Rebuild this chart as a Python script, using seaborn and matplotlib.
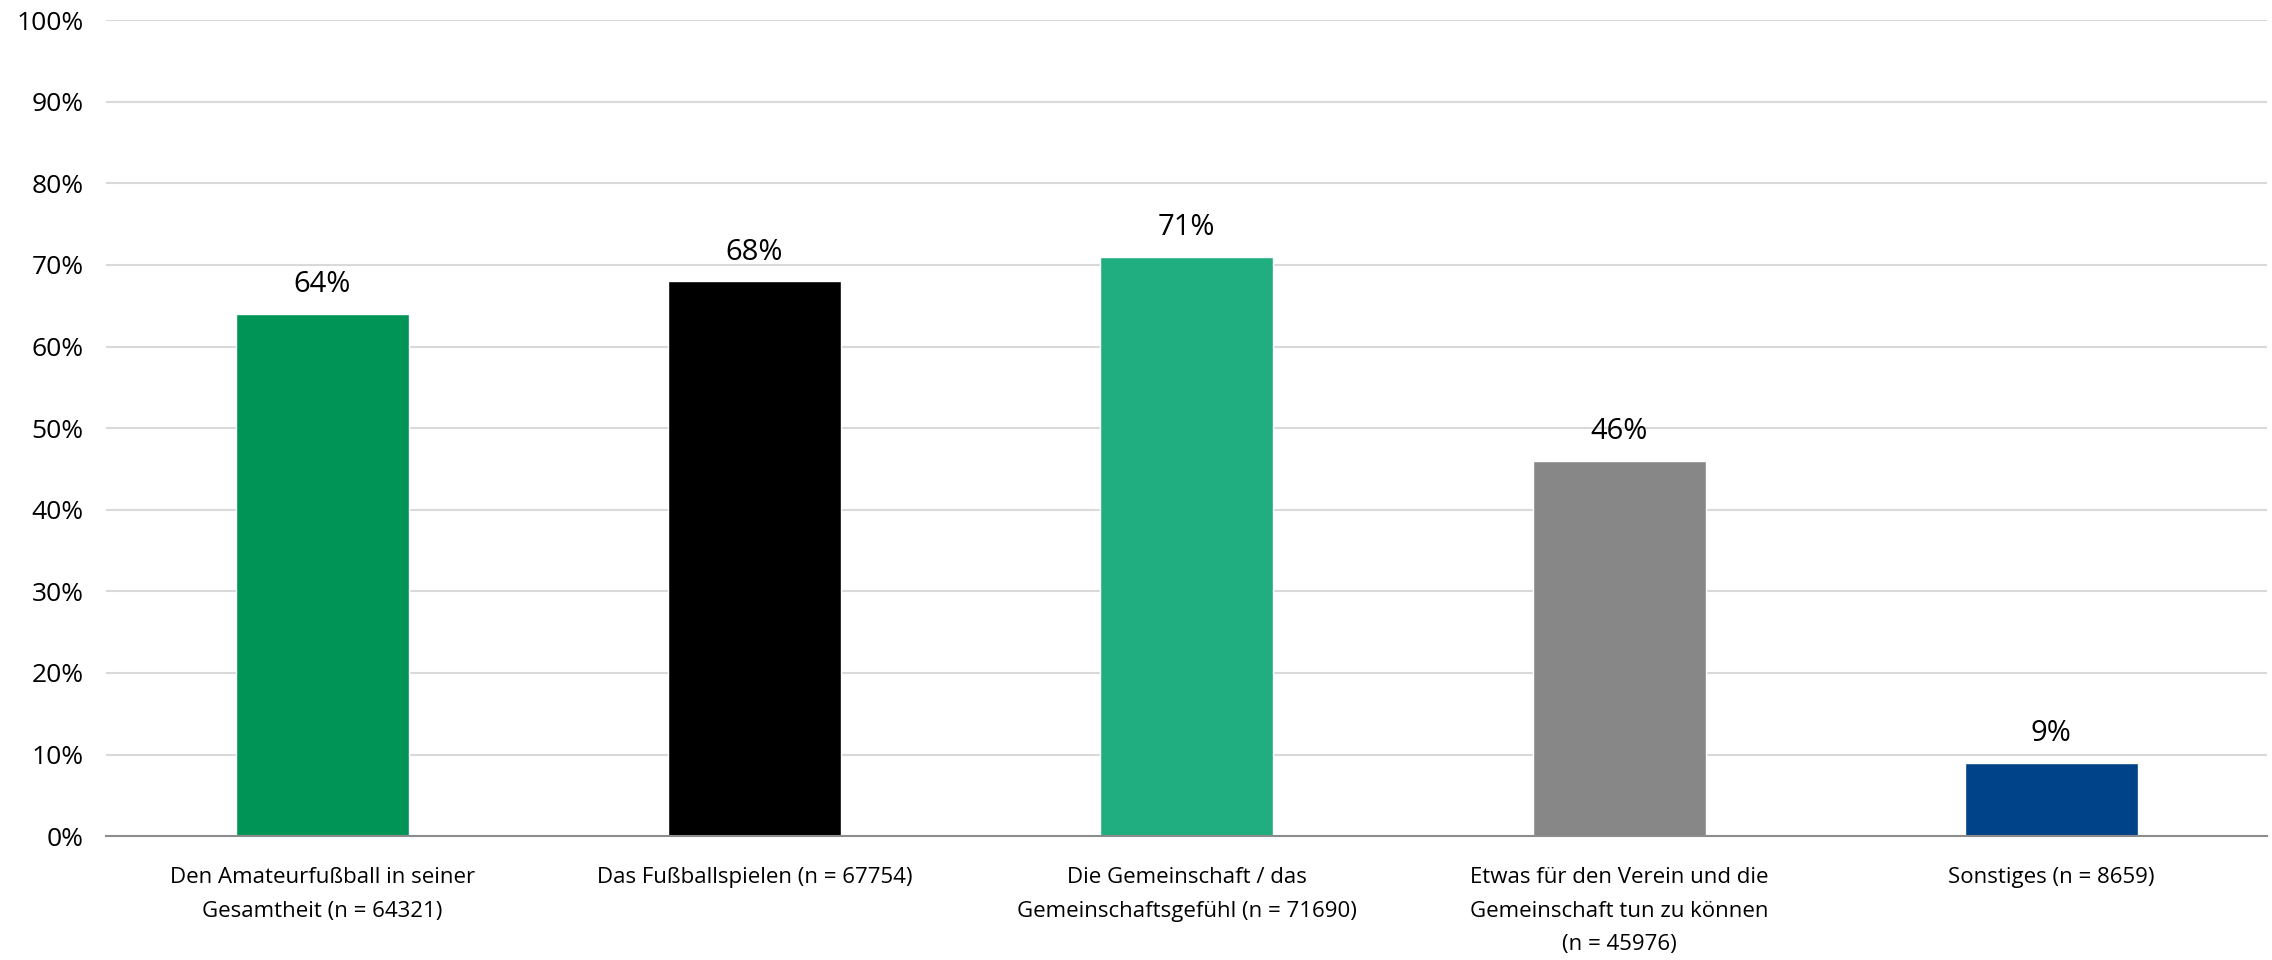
import matplotlib
matplotlib.use("Agg")
import matplotlib.pyplot as plt
import seaborn as sns
import pandas as pd
from matplotlib.ticker import PercentFormatter

categories = [
    "Den Amateurfußball in seiner\nGesamtheit (n = 64321)",
    "Das Fußballspielen (n = 67754)",
    "Die Gemeinschaft / das\nGemeinschaftsgefühl (n = 71690)",
    "Etwas für den Verein und die\nGemeinschaft tun zu können\n(n = 45976)",
    "Sonstiges (n = 8659)",
]
values = [64, 68, 71, 46, 9]
colors = ["#009557", "#000000", "#20AD80", "#878787", "#004388"]

sns.set_theme(style="white")
plt.rcParams["font.family"] = ["Open Sans", "DejaVu Sans"]

df = pd.DataFrame({"cat": categories, "val": values})

fig = plt.figure(figsize=(22.72, 9.6), dpi=100)
ax = fig.add_axes([0.0467, 0.129, 0.9513, 0.85])

sns.barplot(data=df, x="cat", y="val", hue="cat", palette=colors,
            width=0.4, legend=False, ax=ax, saturation=1)

ax.set_ylim(0, 100)
ax.set_xlim(-0.5, 4.5)
ax.set_yticks(range(0, 101, 10))
ax.yaxis.set_major_formatter(PercentFormatter(decimals=0))
ax.set_axisbelow(True)
ax.grid(axis="y", color="#d9d9d9", linewidth=1.5)
ax.grid(axis="x", visible=False)
for s in ["top", "right", "left"]:
    ax.spines[s].set_visible(False)
ax.spines["bottom"].set_color("#8c8c8c")
ax.spines["bottom"].set_linewidth(1.5)
ax.set_xlabel("")
ax.set_ylabel("")
ax.tick_params(axis="y", length=0, pad=16, labelsize=19, labelcolor="#000000")
ax.tick_params(axis="x", length=0, pad=22, labelsize=16, labelcolor="#000000")
for lbl in ax.get_xticklabels():
    lbl.set_linespacing(1.8)

for i, v in enumerate(values):
    ax.annotate(f"{v}%", (i, v), xytext=(0, 21), textcoords="offset points",
                ha="center", va="center", fontsize=21, color="#000000")

fig.savefig("out.png", dpi=100)
